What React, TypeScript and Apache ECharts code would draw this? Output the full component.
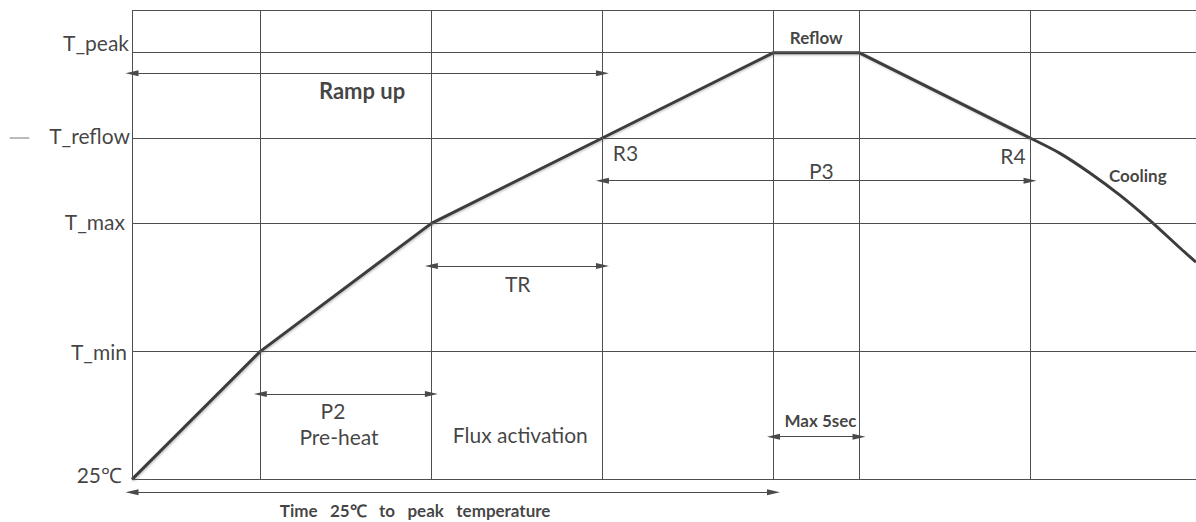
import React, { useEffect, useRef } from "react";
import * as echarts from "echarts";

// Reflow profile (time units, temperature levels)
const profileX = [0, 1.5, 3.5, 5.5, 7.5, 8.5, 10.5];
const profileY = [0, 3, 6, 8, 10, 10, 8];
const coolingX = [10.5, 10.85, 11.2, 11.55, 11.9, 12.26, 12.44];
const coolingY = [8, 7.64, 7.18, 6.66, 6.07, 5.41, 5.09];

// Grid levels
const tempLevels = [0, 3, 6, 8, 10, 11];
const timeMarks = [0, 1.5, 3.5, 5.5, 7.5, 8.5, 10.5];
const tempLabels = ["25℃", "T_min", "T_max", "T_reflow", "T_peak"];
const tempLabelY = [0.12, 3, 6.05, 8.05, 10.25];
const tempLabelGap = [10, 5, 7, 2, 3];

// Dimension arrows: start, end, level
const spanFrom = [0, 5.5, 3.5, 1.5, 7.5, 0];
const spanTo = [5.5, 10.5, 5.5, 3.5, 8.5, 7.5];
const spanLevel = [9.52, 7.0, 5.0, 2.0, 1.0, -0.3];

// Annotation texts
const GAP = "\u00a0\u00a0\u00a0";
const noteText = [
  "Ramp up", "Reflow", "R3", "R4", "P3", "Cooling", "TR", "P2", "Pre-heat",
  "Flux activation", "Max 5sec",
  "Time" + GAP + "25℃" + GAP + "to" + GAP + "peak" + GAP + "temperature",
];
const noteX = [2.69, 8.0, 5.77, 10.3, 8.06, 11.76, 4.51, 2.35, 2.42, 4.54, 8.05, 3.31];
const noteY = [9.12, 10.36, 7.65, 7.6, 7.25, 7.13, 4.6, 1.62, 1.0, 1.04, 1.38, -0.72];
const noteBold = [true, true, false, false, false, true, false, false, false, false, true, true];
const noteSize = [22, 17, 21, 21, 21, 17, 21, 21, 21, 21, 17, 17];

const FONT = 'Lato, "Open Sans", sans-serif';

export default function App() {
  const ref = useRef<HTMLDivElement>(null);
  useEffect(() => {
    if (!ref.current) return;
    const chart = echarts.init(ref.current, undefined, { renderer: "svg" });
    const gridColor = "#4f4f4f";
    const gridLines: any[] = [];
    tempLevels.forEach((y) => {
      gridLines.push([{ coord: [0, y] }, { coord: [12.44, y] }]);
    });
    timeMarks.forEach((x) => {
      gridLines.push([{ coord: [x, 0] }, { coord: [x, 11] }]);
    });
    const arrows = spanFrom.map((f, i) => [
      { coord: [f, spanLevel[i]] },
      { coord: [spanTo[i], spanLevel[i]] },
    ]);
    const option: any = {
      animation: false,
      grid: { left: 3.72, right: 0, top: 10, bottom: 0 },
      xAxis: { type: "value", min: -1.5, max: 12.44, show: false },
      yAxis: { type: "value", min: -1, max: 11, show: false },
      series: [
        {
          type: "line",
          data: [],
          silent: true,
          markLine: {
            silent: true,
            symbol: ["none", "none"],
            label: { show: false },
            lineStyle: { color: gridColor, width: 1, type: "solid" },
            data: gridLines,
          },
        },
        {
          type: "line",
          data: [],
          silent: true,
          markLine: {
            silent: true,
            symbol: ["triangle", "triangle"],
            symbolSize: [6, 13],
            label: { show: false },
            lineStyle: { color: "#4a4a4a", width: 1, type: "solid" },
            itemStyle: { color: "#4a4a4a" },
            data: arrows,
          },
        },
        {
          type: "line",
          data: [[-1.43, 8], [-1.2, 8]],
          symbol: "none",
          silent: true,
          lineStyle: { color: "#777", width: 1 },
        },
        {
          type: "line",
          data: profileX.map((x, i) => [x, profileY[i]]),
          symbol: "none",
          lineStyle: {
            color: "#3c3c3c",
            width: 3,
            shadowColor: "rgba(0,0,0,0.25)",
            shadowBlur: 2,
            shadowOffsetX: 1,
            shadowOffsetY: 1,
          },
        },
        {
          type: "line",
          data: coolingX.map((x, i) => [x, coolingY[i]]),
          symbol: "none",
          smooth: 0.3,
          lineStyle: { color: "#3c3c3c", width: 3 },
        },
        {
          type: "scatter",
          symbolSize: 0,
          silent: true,
          data: tempLabels.map((t, i) => ({
            value: [0, tempLabelY[i]],
            name: t,
            label: { distance: tempLabelGap[i] },
          })),
          label: {
            show: true,
            position: "left",
            formatter: (p: any) => p.name,
            color: "#111",
            fontSize: 21,
            fontFamily: FONT,
          },
        },
        {
          type: "scatter",
          symbolSize: 0,
          silent: true,
          data: noteText.map((t, i) => ({
            value: [noteX[i], noteY[i]],
            name: t,
            label: {
              fontWeight: noteBold[i] ? "bold" : "normal",
              fontSize: noteSize[i],
            },
          })),
          label: {
            show: true,
            position: "inside",
            formatter: (p: any) => p.name,
            color: "#111",
            fontFamily: FONT,
          },
        },
      ],
    };
    chart.setOption(option);
    return () => chart.dispose();
  }, []);
  return (
    <div
      ref={ref}
      style={{ position: "fixed", left: 0, top: 0, width: 1196, height: 522, background: "#fff" }}
    />
  );
}
